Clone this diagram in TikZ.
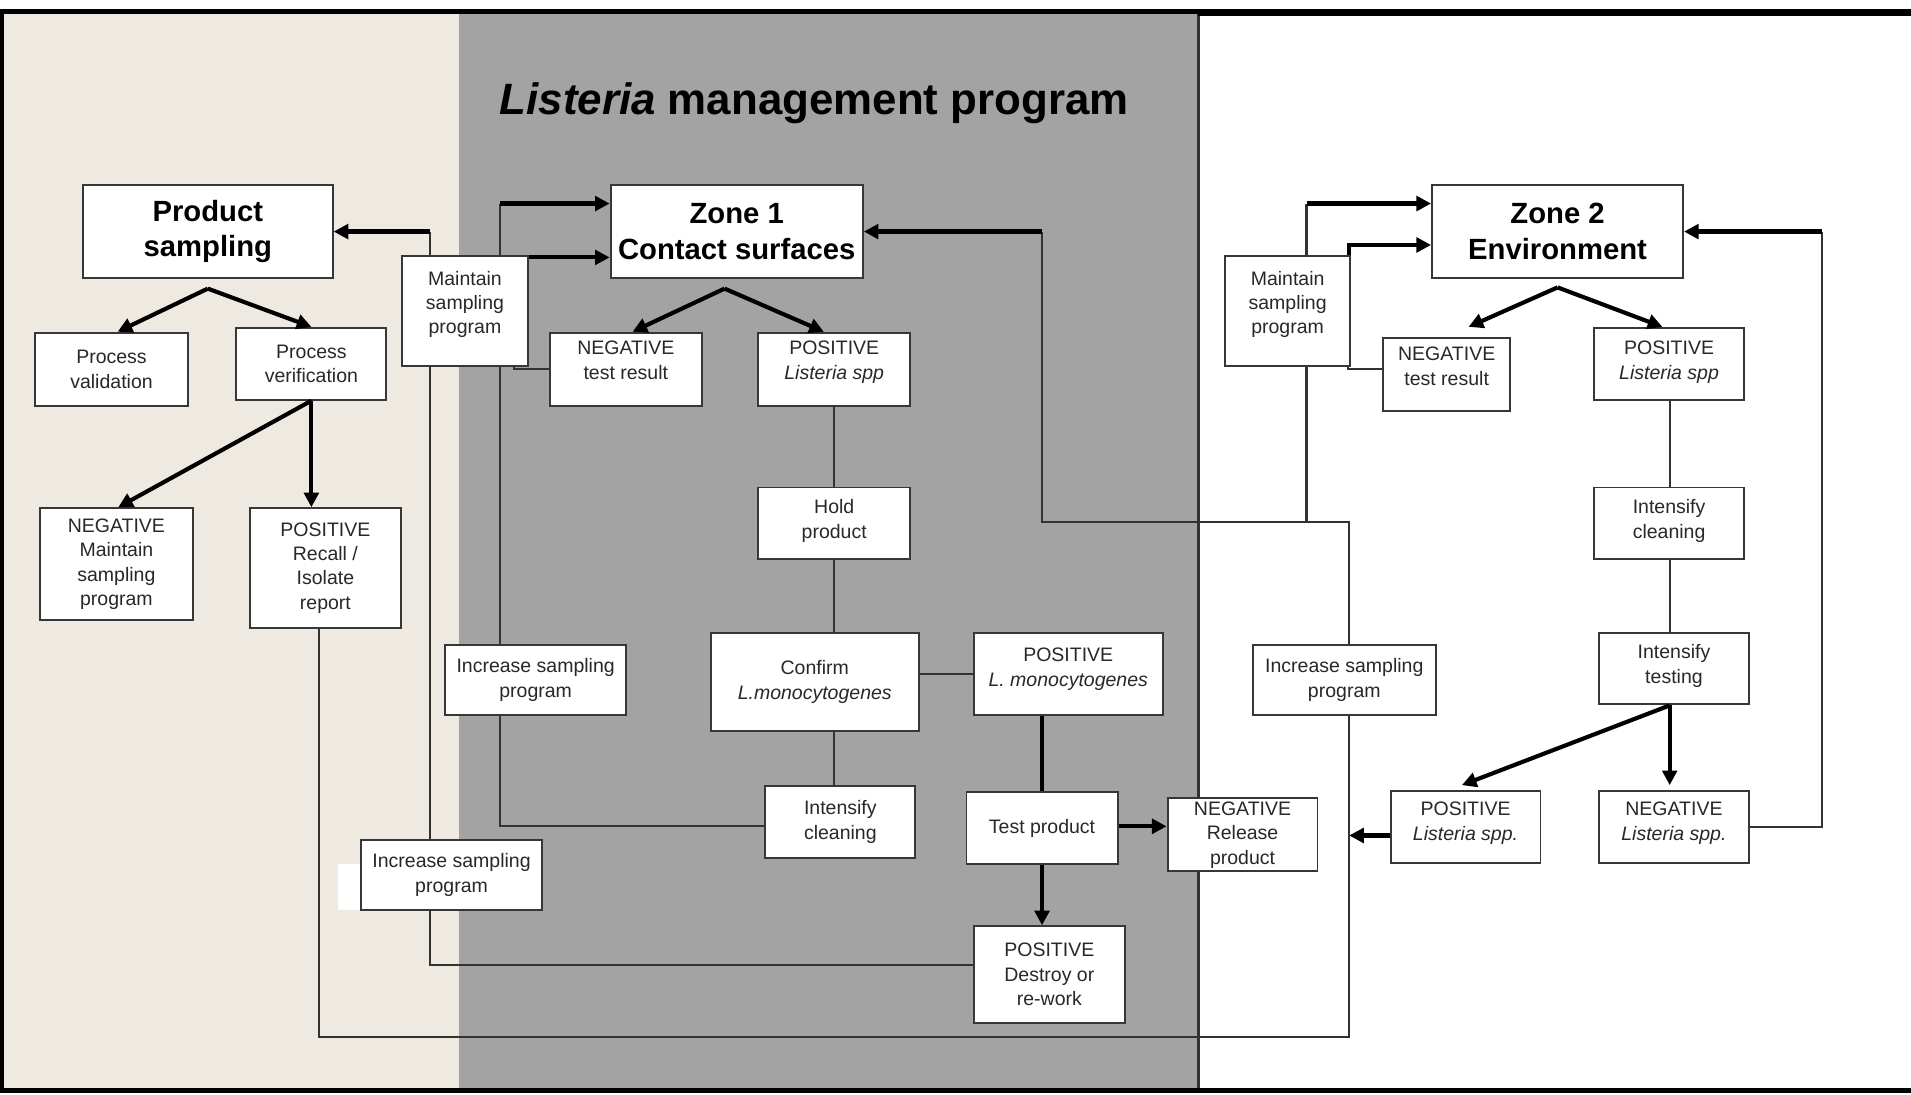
\documentclass[tikz,border=0pt]{standalone}
\usepackage{fontspec}
\setmainfont{Liberation Sans}
\usetikzlibrary{arrows.meta,calc}
\pgfdeclarelayer{panel}
\pgfdeclarelayer{bg}
\pgfsetlayers{panel,bg,main}
\definecolor{beige}{RGB}{239,234,225}
\definecolor{panelgrey}{RGB}{163,163,163}
\definecolor{boxline}{RGB}{55,55,55}
\definecolor{txt}{RGB}{40,40,40}
\definecolor{wirec}{RGB}{50,50,50}
\newcommand{\rz}[2]{\raisebox{#1}[\height][\depth]{\begin{tabular}{@{}c@{}}#2\end{tabular}}}
\tikzset{
 bx/.style={draw=boxline, line width=1.6pt, fill=white, inner sep=0pt, align=center, text=txt, font=\fontsize{16}{20}\selectfont},
 hd/.style={bx, font=\bfseries\fontsize{24}{29}\selectfont, text=black},
 wire/.style={draw=wirec, line width=1.8pt},
 thk/.style={draw=black, line width=3.4pt},
 arr/.style={thk, -{Triangle[length=12pt,width=12pt]}},
}
\begin{document}
\begin{tikzpicture}[x=1pt,y=-1pt]
\useasboundingbox (0,0) rectangle (1568,898);
% ---------------- panels
\begin{pgfonlayer}{panel}
\fill[white] (0,0) rectangle (1568,898);
\fill[beige] (0,9) rectangle (377,895);
\fill[panelgrey] (377,9) rectangle (983,895);
\fill[white] (277,709) rectangle (296,747);
\draw[draw=wirec, line width=2pt] (983.5,9) -- (983.5,895);
\fill[black] (0,7.5) rectangle (1568,11.5);
\fill[black] (983,7.5) rectangle (1568,13.5);
\fill[black] (0,7.5) rectangle (3,897);
\fill[black] (0,893) rectangle (1568,897);
\end{pgfonlayer}
% ---------------- title
\node[font=\bfseries\fontsize{36}{40}\selectfont, anchor=base] (title) at (668,94) {{\itshape Listeria} management program};
% ---------------- header boxes
\node[hd, minimum width=205pt, minimum height=76pt] (ps) at (170.5,190) {Product\\sampling};
\node[hd, minimum width=207pt, minimum height=76pt] (z1) at (604.5,190) {Zone 1\\Contact surfaces};
\node[hd, minimum width=206pt, minimum height=76pt] (z2) at (1278,190) {Zone 2\\Environment};
% ---------------- product sampling column
\node[bx, minimum width=125pt, minimum height=60pt] (pval) at (91.5,303) {Process\\validation};
\node[bx, minimum width=123pt, minimum height=59pt] (pver) at (255.5,298.5) {Process\\verification};
\node[bx, minimum width=125pt, minimum height=92pt] (lneg) at (95.5,463) {NEGATIVE\\Maintain\\sampling\\program};
\node[bx, minimum width=124pt, minimum height=98pt] (lpos) at (267,466) {POSITIVE\\Recall /\\Isolate\\report};
\node[bx, minimum width=103pt, minimum height=90pt] (mL) at (381.5,255) {\rz{5pt}{Maintain\\sampling\\program}};
\node[bx, minimum width=149pt, minimum height=58pt] (incU) at (439.5,558) {Increase sampling\\program};
\node[bx, minimum width=149pt, minimum height=58pt] (incL) at (370.5,718) {Increase sampling\\program};
% ---------------- zone 1
\node[bx, minimum width=125pt, minimum height=60pt] (n1) at (513.5,303) {\rz{6pt}{NEGATIVE\\test result}};
\node[bx, minimum width=125pt, minimum height=60pt] (p1) at (684.5,303) {\rz{6pt}{POSITIVE\\\textit{Listeria spp}}};
\node[bx, minimum width=125pt, minimum height=59pt] (hold) at (684.5,429.5) {\rz{2pt}{Hold\\product}};
\node[bx, minimum width=171pt, minimum height=81pt] (conf) at (668.5,559.5) {Confirm\\\textit{L.monocytogenes}};
\node[bx, minimum width=155pt, minimum height=68pt] (plm) at (876.5,553) {\rz{4pt}{POSITIVE\\\textit{L. monocytogenes}}};
\node[bx, minimum width=123pt, minimum height=59pt] (ic1) at (689.5,674.5) {Intensify\\cleaning};
\node[bx, minimum width=124pt, minimum height=59pt] (tp) at (855,679.5) {Test product};
\node[bx, minimum width=123pt, minimum height=60pt] (rel) at (1019.5,685) {NEGATIVE\\Release\\product};
\node[bx, minimum width=124pt, minimum height=79pt] (dest) at (861,799.5) {POSITIVE\\Destroy or\\re-work};
% ---------------- zone 2
\node[bx, minimum width=103pt, minimum height=90pt] (mR) at (1056.5,255) {\rz{5pt}{Maintain\\sampling\\program}};
\node[bx, minimum width=104pt, minimum height=60pt] (n2) at (1187,307) {\rz{5pt}{NEGATIVE\\test result}};
\node[bx, minimum width=123pt, minimum height=59pt] (p2) at (1369.5,298.5) {\rz{1.5pt}{POSITIVE\\\textit{Listeria spp}}};
\node[bx, minimum width=123pt, minimum height=59pt] (ic2) at (1369.5,429.5) {\rz{2pt}{Intensify\\cleaning}};
\node[bx, minimum width=123pt, minimum height=59pt] (it) at (1373.5,548.5) {\rz{2pt}{Intensify\\testing}};
\node[bx, minimum width=150pt, minimum height=58pt] (inc2) at (1103,558) {Increase sampling\\program};
\node[bx, minimum width=123pt, minimum height=59pt] (pl2) at (1202.5,678.5) {\rz{3pt}{POSITIVE\\\textit{Listeria spp.}}};
\node[bx, minimum width=123pt, minimum height=59pt] (nl2) at (1373.5,678.5) {\rz{3pt}{NEGATIVE\\\textit{Listeria spp.}}};
% ---------------- routing lanes
\coordinate (xA) at (353,0);
\coordinate (xB) at (410,0);
\coordinate (xC) at (422,0);
\coordinate (xD) at (262,0);
\coordinate (xE) at (1107,0);
\coordinate (xF) at (855,0);
\coordinate (xG) at (1072,0);
\coordinate (xH) at (1106,0);
\coordinate (xI) at (1495,0);
\coordinate (xZ1) at (684,0);
\coordinate (xZ2) at (1370,0);
\coordinate (yBot) at (0,851);
\coordinate (yMid) at (0,428);
\coordinate (yT1) at (0,167);
\coordinate (yT2) at (0,201);
% ---------------- thin wires (behind boxes)
\begin{pgfonlayer}{bg}
\draw[wire] ([yshift=7.5pt]dest.west) -| (xA |- ps.east);
\draw[wire] ([yshift=-3pt]ic1.west) -| (xB |- yT1);
\draw[wire] (n1.west) -| (xC |- mL.south);
\draw[wire] (xD |- lpos.south) -- (xD |- yBot) -| (xE |- yMid) -| (xF |- z1.east);
\draw[wire] (xG |- yMid) -- (xG |- yT1);
\draw[wire] ([yshift=4pt]n2.west) -| (xH |- mR.south);
\draw[wire] (p1.south) -- (hold.north);
\draw[wire] (xZ1 |- hold.south) -- (xZ1 |- conf.north);
\draw[wire] (xZ1 |- conf.south) -- (xZ1 |- ic1.north);
\draw[wire] (conf.east |- plm.west) -- (plm.west);
\draw[wire] (xZ2 |- p2.south) -- (xZ2 |- ic2.north);
\draw[wire] (xZ2 |- ic2.south) -- (xZ2 |- it.north);
\draw[wire] (nl2.east) -| (xI |- z2.east);
\end{pgfonlayer}
% ---------------- thick arrows
\coordinate (apPS) at ([yshift=-8pt]ps.south);
\draw[arr] (apPS) -- ([xshift=5pt]pval.north);
\draw[arr] (apPS) -- (pver.north);
\draw[arr] (pver.south) -- ([xshift=1.5pt]lneg.north);
\draw[arr] (pver.south) -- (pver.south |- lpos.north);
\draw[arr] (xA |- ps.east) -- (ps.east);
\draw[arr] (xB |- yT1) -- (z1.west |- yT1);
\draw[arr] ([yshift=-2pt]mL.north east) -- ([yshift=-2pt]mL.north east -| z1.west);
\draw[arr] (xF |- z1.east) -- (z1.east);
\coordinate (apZ1) at ([xshift=-10pt,yshift=-8pt]z1.south);
\draw[arr] (apZ1) -- ([xshift=5.5pt]n1.north);
\draw[arr] (apZ1) -- ([xshift=-8.5pt]p1.north);
\coordinate (apZ2) at ([yshift=-7pt]z2.south);
\draw[arr] (apZ2) -- ([xshift=18pt,yshift=8pt]n2.north);
\draw[arr] (apZ2) -- ([xshift=-5.5pt]p2.north);
\draw[arr] (xG |- yT1) -- (z2.west |- yT1);
\draw[arr] ([xshift=-2pt]mR.north east) |- (z2.west |- yT2);
\draw[arr] (xI |- z2.east) -- (z2.east);
\draw[thk] (xF |- plm.south) -- (xF |- tp.north);
\draw[arr] ([yshift=1.5pt]tp.east) -- ([yshift=1.5pt]tp.east -| rel.west);
\draw[arr] (tp.south) -- (tp.south |- dest.north);
\coordinate (apIT) at (xZ2 |- it.south);
\draw[arr] (apIT) -- ([xshift=-3pt,yshift=4pt]pl2.north);
\draw[arr] (apIT) -- ([yshift=4pt]xZ2 |- nl2.north);
\draw[arr] ([yshift=-7pt]pl2.west) -- ([yshift=-7pt]pl2.west -| xE);
\end{tikzpicture}
\end{document}
